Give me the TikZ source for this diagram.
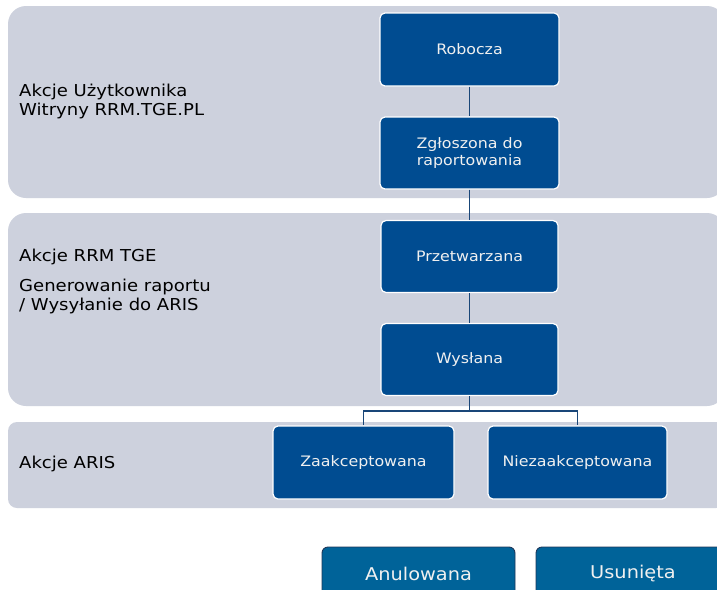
\documentclass[tikz,border=0pt]{standalone}
\usepackage{fontspec}
\setmainfont[FakeStretch=1.1]{DejaVu Sans}
\definecolor{bandfill}{RGB}{205,209,221}
\definecolor{nodefill}{RGB}{0,76,145}
\definecolor{btnfill}{RGB}{0,99,153}
\definecolor{btnline}{RGB}{30,55,90}
\definecolor{conn}{RGB}{25,70,120}
\definecolor{txtwhite}{RGB}{240,240,240}
\begin{document}
\begin{tikzpicture}[x=1pt,y=-1pt,
  band/.style={fill=bandfill,draw=none},
  state/.style={rectangle,rounded corners=5pt,fill=nodefill,draw=white,line width=1.2pt,
    text=txtwhite,inner sep=0pt,align=center,
    font=\fontsize{14.4}{17}\selectfont},
  btn/.style={rectangle,rounded corners=6pt,fill=btnfill,draw=btnline,line width=0.9pt,
    text=txtwhite,inner sep=0pt,font=\fontsize{17.6}{19}\selectfont},
  lbl/.style={anchor=west,align=left,inner sep=0pt,text=black,
    font=\fontsize{16.4}{19}\selectfont},
  link/.style={draw=conn,line width=1.8pt}]
\useasboundingbox (0,0) rectangle (717,589);
\fill[white] (0,0) rectangle (717,589);
% bands
\path[band,rounded corners=18pt] (8,6) rectangle (725,198);
\path[band,rounded corners=18pt] (8,213) rectangle (725,406);
\path[band,rounded corners=9pt] (8,422) rectangle (725,508);
% labels
\node[lbl] (l1) at (19,101.5) {Akcje Użytkownika\\Witryny RRM.TGE.PL};
\node[lbl] (l2) at (19,257) {Akcje RRM TGE};
\node[lbl] (l3) at (19,296.5) {Generowanie raportu\\/ Wysyłanie do ARIS};
\node[lbl] (l4) at (19,464) {Akcje ARIS};
% states
\node[state,minimum width=179pt,minimum height=73pt] (rob) at (469.5,49.5) {Robocza};
\node[state,minimum width=179pt,minimum height=72pt] (zgl) at (469.5,153) {Zgłoszona do\\raportowania};
\node[state,minimum width=177pt,minimum height=72pt] (prz) at (469.5,256.5) {Przetwarzana};
\node[state,minimum width=177pt,minimum height=72pt] (wys) at (469.5,359.5) {Wysłana};
\node[state,minimum width=181pt,minimum height=73pt] (zaak) at (363.5,462.5) {Zaakceptowana};
\node[state,minimum width=179pt,minimum height=73pt] (niez) at (577.5,462.5) {Niezaakceptowana};
% buttons
\node[btn,minimum width=193pt,minimum height=53pt] (anu) at (418.5,573.5) {Anulowana};
\node[btn,minimum width=194pt,minimum height=53pt] (usu) at (633,573.5) {Usunięta};
% connectors
\coordinate (split) at (469.5,411);
\draw[link] (rob.south) -- (zgl.north);
\draw[link] (zgl.south) -- (prz.north);
\draw[link] (prz.south) -- (wys.north);
\draw[link] (wys.south) -- (split);
\draw[link] (split) -| (zaak.north);
\draw[link] (split) -| (niez.north);
\end{tikzpicture}
\end{document}
